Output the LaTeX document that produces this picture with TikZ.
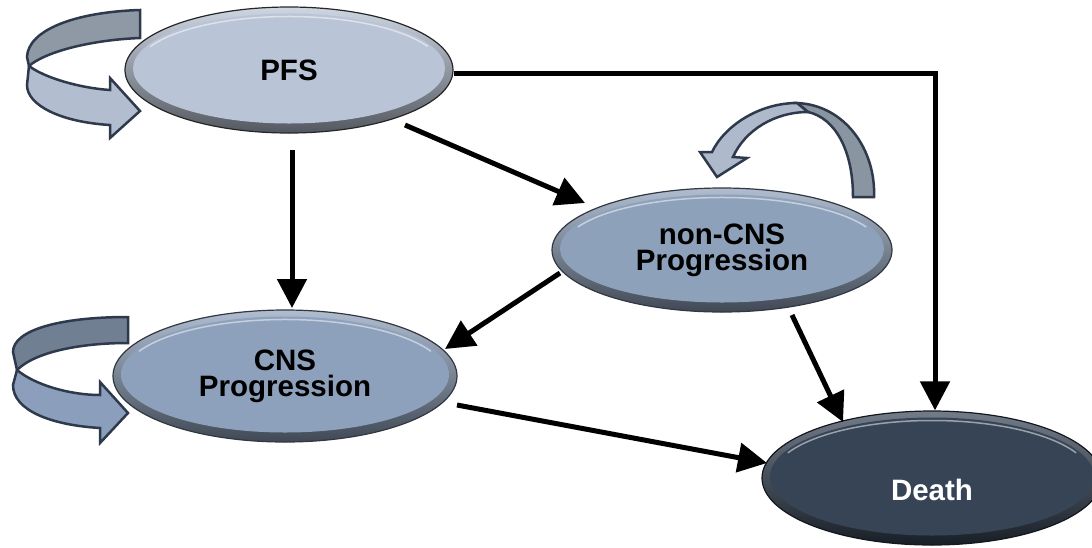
\documentclass[tikz,border=0pt]{standalone}
\usepackage{fontspec}
\setmainfont{Liberation Sans}
\usetikzlibrary{shapes.geometric,arrows.meta,calc}
\definecolor{pfsc}{HTML}{B9C4D6}
\definecolor{ncnsc}{HTML}{8EA1BB}
\definecolor{cnsc}{HTML}{8EA1BC}
\definecolor{deathc}{HTML}{364456}
\definecolor{edgec}{HTML}{2E3A4B}
\definecolor{loopAback}{HTML}{8F99A6}
\definecolor{loopAfront}{HTML}{B2BED0}
\definecolor{loopBback}{HTML}{717F93}
\definecolor{loopBfront}{HTML}{8B9FBC}
\definecolor{loopCback}{HTML}{8A95A2}
\definecolor{loopCfront}{HTML}{AEBACB}
\begin{document}
\begin{tikzpicture}[x=1pt,y=-1pt,
  state/.style n args={3}{ellipse, inner sep=0pt, minimum width=#1, minimum height=#2,
    fill=#3, draw=#3!35!black, line width=1.2pt, align=center,
    font=\bfseries\fontsize{29.5}{26}\selectfont,
    path picture={
      \shade[top color=#3!70!white, bottom color=#3!45!black]
        (path picture bounding box.south west) rectangle (path picture bounding box.north east);
      \fill[#3] ([yshift=1.5pt]path picture bounding box.center) ellipse [x radius=#1/2-8, y radius=#2/2-8];
      \draw[white, opacity=0.5, line width=1.5pt]
        ([yshift=1.5pt]path picture bounding box.center) ++(205:{#1/2-11} and {#2/2-11})
        arc[start angle=205, end angle=335, x radius=#1/2-11, y radius=#2/2-11];
    }},
  arr/.style={line width=5pt, -{Triangle[length=29pt,width=29pt]}},
  loopline/.style={draw=edgec, line width=2.5pt, line join=miter},
]
\useasboundingbox (0,0) rectangle (1092,547);

% self-loop block arrows
\filldraw[loopline, fill=loopAback] (140,10) .. controls (75,12) and (28,30) .. (27,57) -- (29,66)
  .. controls (45,52) and (90,40) .. (140,38) -- cycle;
\filldraw[loopline, fill=loopAfront] (29,66) .. controls (45,78) and (80,88) .. (110,90) -- (110,78)
  -- (140,111) -- (110,138) -- (110,125) .. controls (60,122) and (27,105) .. (27,85) -- cycle;

\filldraw[loopline, fill=loopBback] (128,317) .. controls (60,317) and (13,330) .. (13,352) -- (17,370)
  .. controls (35,352) and (80,343) .. (128,343) -- cycle;
\filldraw[loopline, fill=loopBfront] (17,370) .. controls (35,385) and (70,395) .. (100,395) -- (100,382)
  -- (128,413) -- (100,443) -- (100,428) .. controls (50,425) and (13,410) .. (13,385) -- cycle;

\filldraw[loopline, fill=loopCback] (874,197) .. controls (876,150) and (845,105) .. (797,103) -- (808,112)
  .. controls (835,118) and (853,150) .. (853,197) -- cycle;
\filldraw[loopline, fill=loopCfront] (797,103) .. controls (760,103) and (725,125) .. (712,152) -- (700,152)
  -- (717,177) -- (747,158) -- (733,157) .. controls (745,130) and (775,112) .. (808,112) -- cycle;

% states
\node[state={328}{126}{pfsc}, draw=black!85] (pfs) at (289,70) {PFS};
\node[state={340}{124}{ncnsc}] (noncns) at (722,250) {non-CNS\\Progression};
\node[state={344}{132}{cnsc}] (cns) at (285,376) {CNS\\Progression};
\node[state={340}{134}{deathc}, text=white] (death) at (932,478) {\raisebox{-22pt}[0pt][0pt]{Death}};

% transitions
\draw[arr] ($(pfs.east)+(0,3)$) -| ($(death.north)+(3,0)$);
\draw[arr] ($(pfs)+(116,55)$) -- ($(noncns)+(-137,-47)$);
\draw[arr] ($(pfs)+(3,80)$) -- ($(cns)+(7,-68)$);
\draw[arr] ($(noncns)+(-162,23)$) -- ($(cns)+(160,-27)$);
\draw[arr] ($(noncns)+(70,65)$) -- ($(death)+(-89,-56)$);
\draw[arr] ($(cns)+(172,29)$) -- ($(death)+(-165,-15)$);
\end{tikzpicture}
\end{document}
